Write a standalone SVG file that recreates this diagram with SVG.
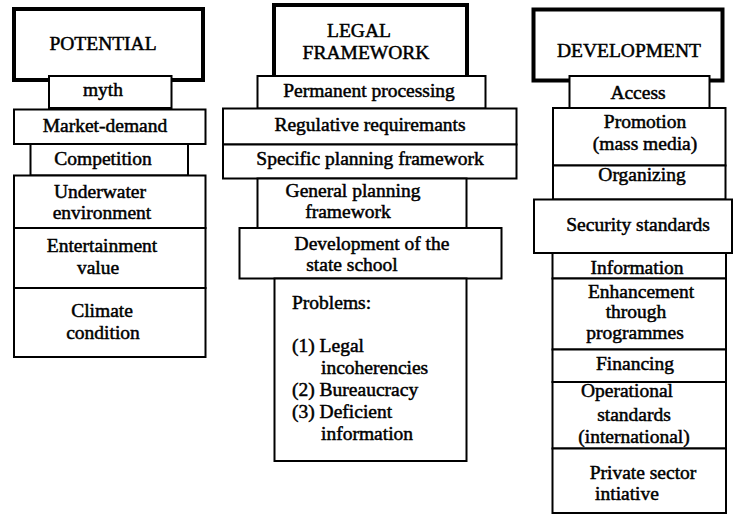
<svg xmlns="http://www.w3.org/2000/svg" width="733" height="514" viewBox="0 0 733 514">
<style>
.b{fill:#fff;stroke:#000;stroke-width:2}
.h{fill:#fff;stroke:#000;stroke-width:4}
text{font-family:"Liberation Serif","Times New Roman","DejaVu Serif",serif;font-size:19.5px;fill:#000;stroke:#000;stroke-width:0.5}
.c{text-anchor:middle}
</style>
<rect width="733" height="514" fill="#fff"/>
<g id="potential">
<rect class="h" x="14" y="9" width="189" height="71"/>
<text class="c" x="103" y="50">POTENTIAL</text>
</g>
<g id="myth"><rect class="b" x="49" y="76" width="122.5" height="32"/><text class="c" x="103" y="96">myth</text></g>
<g id="market-demand"><rect class="b" x="14" y="109.5" width="191.5" height="34.5"/><text class="c" x="105" y="132">Market-demand</text></g>
<g id="competition"><rect class="b" x="30.5" y="144" width="157.5" height="31.5"/><text class="c" x="103" y="164.5">Competition</text></g>
<g id="underwater"><rect class="b" x="14" y="175.5" width="191.5" height="52.5"/><text class="c" x="100" y="197.5">Underwater</text><text class="c" x="102" y="219">environment</text></g>
<g id="entertainment"><rect class="b" x="14" y="228" width="191.5" height="60"/><text class="c" x="102" y="251.5">Entertainment</text><text class="c" x="98" y="273.5">value</text></g>
<g id="climate"><rect class="b" x="14" y="288" width="191.5" height="69"/><text class="c" x="102" y="317">Climate</text><text class="c" x="103" y="338.5">condition</text></g>

<g id="legal">
<rect class="h" x="274" y="5" width="193" height="72"/>
<text class="c" x="359" y="36.5">LEGAL</text>
<text class="c" x="366" y="58.5">FRAMEWORK</text>
</g>
<g id="permanent"><rect class="b" x="257.5" y="76" width="228" height="32.5"/><text class="c" x="369" y="97">Permanent processing</text></g>
<g id="regulative"><rect class="b" x="223" y="108.5" width="293.5" height="36"/><text class="c" x="370" y="131">Regulative requiremants</text></g>
<g id="specific"><rect class="b" x="223" y="144.5" width="293.5" height="34"/><text class="c" x="370" y="165">Specific planning framework</text></g>
<g id="general"><rect class="b" x="257.5" y="178.5" width="209" height="49.5"/><text class="c" x="353" y="197">General planning</text><text class="c" x="348" y="218">framework</text></g>
<g id="state-school"><rect class="b" x="239.5" y="228" width="262" height="50.5"/><text class="c" x="372" y="250">Development of the</text><text class="c" x="352" y="271">state school</text></g>
<g id="problems"><rect class="b" x="274.5" y="278.5" width="192" height="182.5"/>
<text x="292" y="309">Problems:</text>
<text x="292" y="352">(1) Legal</text>
<text x="321" y="374">incoherencies</text>
<text x="292" y="396">(2) Bureaucracy</text>
<text x="292" y="418">(3) Deficient</text>
<text x="321" y="440">information</text>
</g>

<g id="development">
<rect class="h" x="533.5" y="9.5" width="189" height="71"/>
<text class="c" x="629" y="56.5">DEVELOPMENT</text>
</g>
<g id="access"><rect class="b" x="569.5" y="76" width="140" height="32"/><text class="c" x="638" y="98.5">Access</text></g>
<g id="promotion"><rect class="b" x="553" y="108" width="172.5" height="57.5"/><text class="c" x="645" y="128">Promotion</text><text class="c" x="645" y="149.5">(mass media)</text></g>
<g id="organizing"><rect class="b" x="553" y="165.5" width="172.5" height="34"/><text class="c" x="642" y="181">Organizing</text></g>
<g id="security"><rect class="b" x="534" y="199.5" width="198" height="53.5"/><text class="c" x="638" y="231">Security standards</text></g>
<g id="information"><rect class="b" x="552.5" y="253" width="173.5" height="25.5"/><text class="c" x="637" y="273.5">Information</text></g>
<g id="enhancement"><rect class="b" x="552.5" y="278.5" width="173.5" height="71"/><text class="c" x="641" y="297.5">Enhancement</text><text class="c" x="636" y="317.5">through</text><text class="c" x="635" y="338.5">programmes</text></g>
<g id="financing"><rect class="b" x="552.5" y="349.5" width="173.5" height="32.5"/><text class="c" x="635" y="369.5">Financing</text></g>
<g id="operational"><rect class="b" x="552.5" y="382" width="173.5" height="66.5"/><text class="c" x="627" y="397">Operational</text><text class="c" x="634" y="421">standards</text><text class="c" x="634" y="443">(international)</text></g>
<g id="private"><rect class="b" x="552.5" y="448.5" width="173.5" height="64.5"/><text class="c" x="643" y="478.5">Private sector</text><text class="c" x="627" y="500">intiative</text></g>
<g id="connectors"></g>
</svg>
